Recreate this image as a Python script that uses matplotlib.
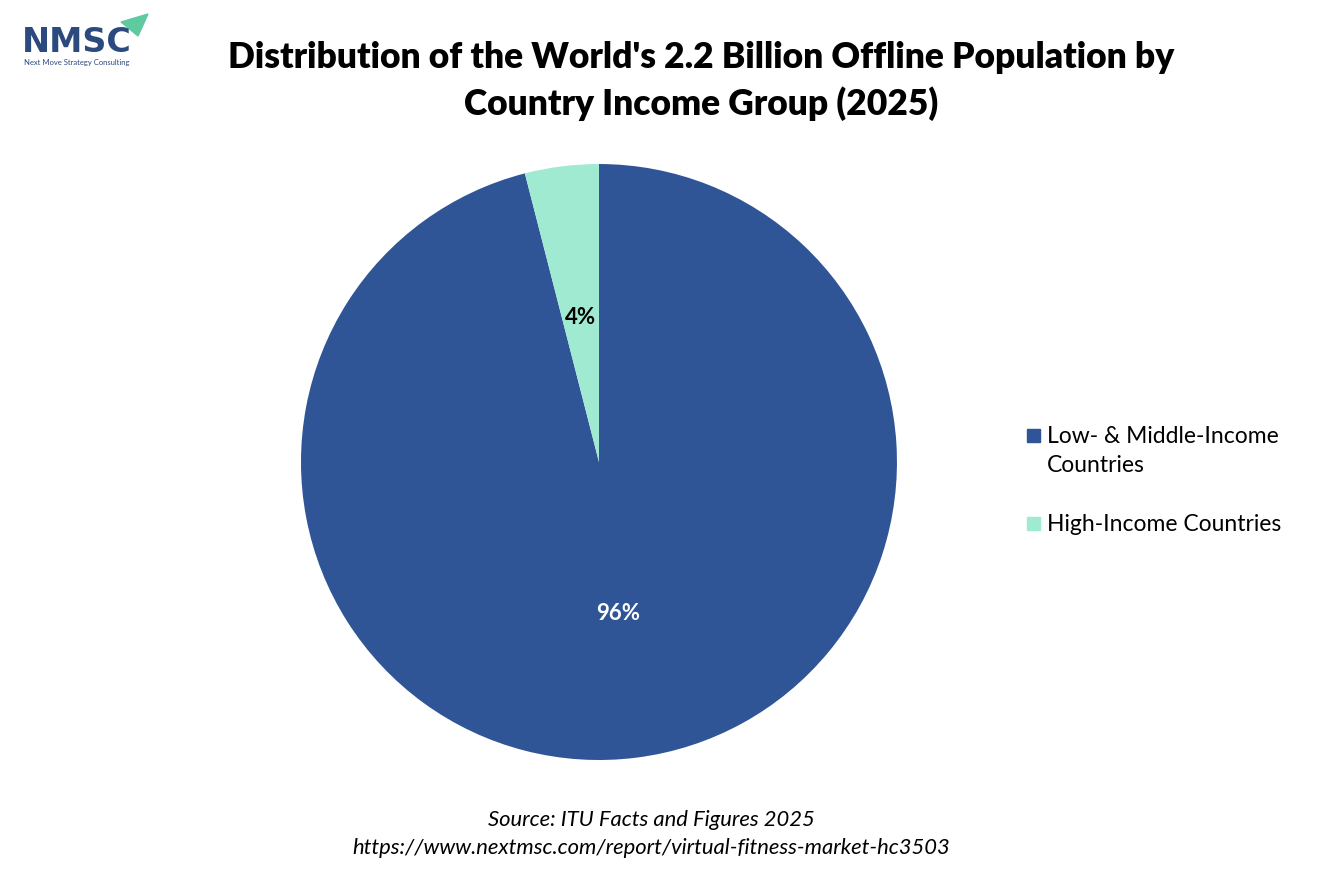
import matplotlib.pyplot as plt
from matplotlib.patches import Rectangle, Polygon

# data
groups = ['Low- & Middle-Income\nCountries', 'High-Income Countries']
shares = [96, 4]
colors = ['#2F5597', '#A0EAD2']
label_colors = ['white', 'black']

plt.rcParams['font.family'] = ['Lato', 'DejaVu Sans']

fig = plt.figure(figsize=(13.34, 8.89), dpi=100)

# pie: centre ~(599, 462) px, radius ~298 px
ax = fig.add_axes([0.2256, 0.1451, 0.4468, 0.6704])
wedges, texts, autotexts = ax.pie(shares, colors=colors, startangle=90, counterclock=False,
                                  autopct='%1.0f%%', pctdistance=0.5,
                                  wedgeprops=dict(linewidth=0))
for t, c in zip(autotexts, label_colors):
    t.set_color(c)
    t.set_fontsize(16)
    t.set_fontweight('bold')
    x, y = t.get_position()
    t.set_position((x, y - 0.012))
ax.set_xlim(-1, 1)
ax.set_ylim(-1, 1)
ax.set_aspect('equal')

# title
fig.text(701 / 1334, 1 - 57 / 889, "Distribution of the World's 2.2 Billion Offline Population by",
         ha='center', va='center', fontsize=25.5, fontweight='heavy')
fig.text(701 / 1334, 1 - 104 / 889, "Country Income Group (2025)",
         ha='center', va='center', fontsize=25.5, fontweight='heavy')

# legend, drawn by hand so the marker sits on the first text line
legend_y = [435, 523]
for lab, col, y in zip(groups, colors, legend_y):
    fy = 1 - y / 889
    fig.patches.append(Rectangle((1027 / 1334, fy - 6.5 / 889), 13 / 1334, 13 / 889,
                                 transform=fig.transFigure, color=col))
    fig.text(1047 / 1334, fy + 9 / 889, lab, ha='left', va='top', fontsize=16.5, linespacing=1.48)

# source
fig.text(651 / 1334, 1 - 820 / 889, 'Source: ITU Facts and Figures 2025',
         ha='center', va='center', fontsize=15.8, style='italic')
fig.text(651 / 1334, 1 - 848 / 889, 'https://www.nextmsc.com/report/virtual-fitness-market-hc3503',
         ha='center', va='center', fontsize=15.8, style='italic')

# logo
fig.text(22 / 1334, 1 - 43 / 889, 'NMSC', ha='left', va='center', fontsize=24,
         fontweight='bold', color='#2B4A7E', family='DejaVu Sans')
fig.text(24 / 1334, 1 - 62 / 889, 'Next Move Strategy Consulting', ha='left', va='center',
         fontsize=5.5, color='#2B4A7E')
fig.patches.append(Polygon([(121 / 1334, 1 - 22 / 889), (148 / 1334, 1 - 14 / 889),
                            (138 / 1334, 1 - 36 / 889)], closed=True,
                           transform=fig.transFigure, color='#5FC9A0'))

fig.savefig('out.png', dpi=100, facecolor='white')
